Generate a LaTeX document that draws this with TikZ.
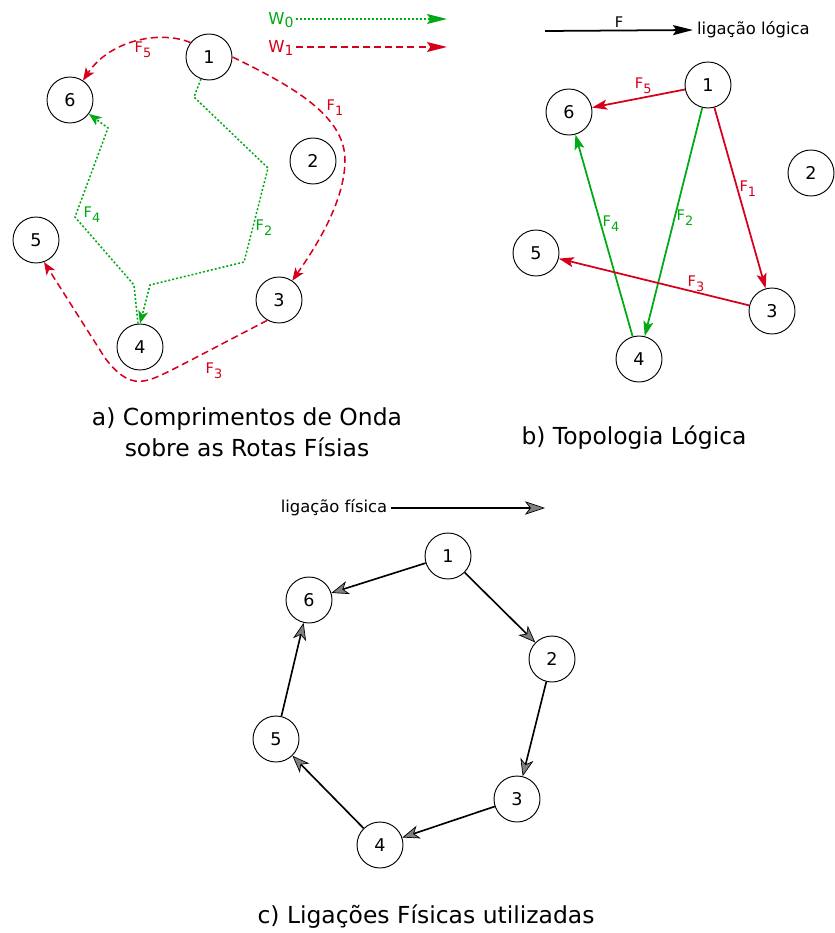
\documentclass[tikz,border=0pt]{standalone}
\usepackage{fontspec}
\setmainfont{DejaVu Sans}
\usepackage{tikz}
\usetikzlibrary{arrows.meta}
\usetikzlibrary{positioning}
\definecolor{rot}{RGB}{214,0,28}
\definecolor{gruen}{RGB}{0,170,20}
\newcommand{\Fidx}[1]{F\raisebox{-4pt}{\fontsize{11}{12}\selectfont #1}} % F mit Index
\newcommand{\Widx}[1]{W\raisebox{-2.5pt}{\fontsize{12}{13}\selectfont #1}} % W mit Index
\tikzset{
  Knoten/.style={draw, circle, line width=0.8pt, minimum size=1.38cm, inner sep=0pt,
    font=\fontsize{15}{18}\selectfont}, % Netzknoten
  Marke/.style={inner sep=1pt, font=\fontsize{12.5}{15}\selectfont}, % F-Beschriftungen
  Legende/.style={font=\fontsize{14}{17}\selectfont},
  Titel/.style={align=center, font=\fontsize{20}{26.5}\selectfont},
  WPfeil/.style={line width=1.3pt, -{Stealth[length=#1, width=0.3cm, inset=0.1cm]}},
  W0Pfeil/.style={gruen, WPfeil=#1, dash pattern=on 1.7pt off 1.7pt}, % Wellenlaenge 0
  W1Pfeil/.style={rot, WPfeil=#1, dash pattern=on 6pt off 3.5pt},     % Wellenlaenge 1
  LPfeil/.style={line width=1.5pt, -{Stealth[length=#1, width=0.3cm, inset=0.1cm]}}, % logisch
  PPfeil/.style={line width=1.4pt,
    -{Stealth[length=#1, width=0.4cm, inset=0.15cm, fill=gray, line width=0.6pt]}} % physisch
}

\begin{document}
\begin{tikzpicture}[x=0.03cm, y=-0.03cm]
\useasboundingbox (0,0) rectangle (834,933);

%Teil a) -- Knoten
\node[Knoten] (a1) at (209,57) {1};
\node[Knoten] (a2) at (313,161) {2};
\node[Knoten] (a3) at (279,300) {3};
\node[Knoten] (a4) at (140,347) {4};
\node[Knoten] (a5) at (36,240) {5};
\node[Knoten] (a6) at (70,100) {6};

%Legende a)
\node[Legende, text=gruen, inner sep=2pt] (w0) at (281,20) {\Widx{0}};
\node[Legende, text=rot, inner sep=2pt] (w1) at (281,48) {\Widx{1}};
\coordinate (w0e) at (447,19);
\coordinate (w1e) at (447,47);
\draw[W0Pfeil=0.6cm] (w0.east |- w0e) -- (w0e);
\draw[W1Pfeil=0.6cm] (w1.east |- w1e) -- (w1e);

%Wege a)
\draw[W1Pfeil=0.38cm] (a1.142) .. controls (160,30) and (110,40) .. (a6);
\draw[W1Pfeil=0.38cm] (a1.east) .. controls (290,85) and (345,115) .. (345,160)
  .. controls (345,205) and (310,255) .. (a3);
\draw[W1Pfeil=0.38cm] (a3.240) -- (195,358) .. controls (160,376) and (148,383) .. (135,381)
  .. controls (122,379) and (112,367) .. (105,358) -- (a5.290);
\draw[W0Pfeil=0.38cm] (a1.250) -- (194,97) -- (268,168) -- (244,262) -- (150,285) -- (a4.north);
\draw[W0Pfeil=0.38cm] (a4.95) -- (134,285) -- (75,217) -- (108,128) -- (a6);

%Beschriftungen a)
\node[Marke, text=rot] (fa5) at (143,50) {\Fidx{5}};
\node[Marke, text=rot] (fa1) at (335,108) {\Fidx{1}};
\node[Marke, text=rot] (fa3) at (214,371) {\Fidx{3}};
\node[Marke, text=gruen] (fa2) at (264,228) {\Fidx{2}};
\node[Marke, text=gruen] (fa4) at (92,215) {\Fidx{4}};

\node[Titel] (ta) at (247,432) {a) Comprimentos de Onda\\sobre as Rotas Físias};

%Teil b) -- Knoten
\node[Knoten] (b1) at (708,85) {1};
\node[Knoten] (b2) at (811,173) {2};
\node[Knoten] (b3) at (772,311) {3};
\node[Knoten] (b4) at (639,359) {4};
\node[Knoten] (b5) at (536,253) {5};
\node[Knoten] (b6) at (569,112) {6};

%Legende b)
\coordinate (lb0) at (545,31);
\node[Legende, anchor=west] (lbt) at (693,30) {ligação lógica};
\draw[LPfeil=0.6cm] (lb0) -- node[Marke, above=1pt] (lbf) {F} (lbt.west);

%logische Verbindungen
\draw[LPfeil=0.45cm, rot] (b1) -- node[Marke, pos=.45, above=2pt] (fb5) {\Fidx{5}} (b6);
\draw[LPfeil=0.45cm, rot] (b1) -- node[Marke, pos=.45, right] (fb1) {\Fidx{1}} (b3);
\draw[LPfeil=0.45cm, gruen] (b1) -- node[Marke, pos=.48, right] (fb2) {\Fidx{2}} (b4);
\draw[LPfeil=0.45cm, gruen] (b4) -- node[Marke, pos=.56, right] (fb4) {\Fidx{4}} (b6);
\draw[LPfeil=0.45cm, rot] (b3) -- node[Marke, pos=.28, above=-1pt] (fb3) {\Fidx{3}} (b5);

\node[Titel] (tb) at (634,438) {b) Topologia Lógica};

%Teil c) -- Knoten
\node[Knoten] (c1) at (448,556) {1};
\node[Knoten] (c2) at (552,659) {2};
\node[Knoten] (c3) at (517,799) {3};
\node[Knoten] (c4) at (380,845) {4};
\node[Knoten] (c5) at (276,739) {5};
\node[Knoten] (c6) at (309,600) {6};

%Legende c)
\node[Legende] (lct) at (334,508) {ligação física};
\coordinate (lce) at (545,508);
\draw[PPfeil=0.6cm] (lct.east) -- (lce);

%physische Verbindungen
\draw[PPfeil=0.52cm] (c1) -- (c6);
\draw[PPfeil=0.52cm] (c1) -- (c2);
\draw[PPfeil=0.52cm] (c2) -- (c3);
\draw[PPfeil=0.52cm] (c3) -- (c4);
\draw[PPfeil=0.52cm] (c4) -- (c5);
\draw[PPfeil=0.52cm] (c5) -- (c6);

\node[Titel] (tc) at (426,917) {c) Ligações Físicas utilizadas};

\end{tikzpicture}
\end{document}
